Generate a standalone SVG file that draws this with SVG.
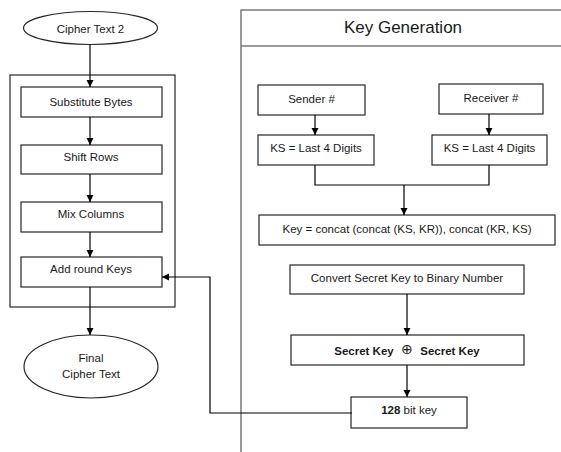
<svg xmlns="http://www.w3.org/2000/svg" width="561" height="452" viewBox="0 0 561 452">
<defs>
<marker id="ah" markerWidth="8" markerHeight="8" refX="7" refY="4" orient="auto" markerUnits="userSpaceOnUse">
<path d="M0,0.5 L7,4 L0,7.5 Z" fill="#000"/>
</marker>
<style>
.box{fill:#fff;stroke:#262626;stroke-width:1.2}
.panel{fill:none;stroke:#7a7a7a;stroke-width:1.5}
.t{font-family:"Liberation Sans",Arial,sans-serif;font-size:11.5px;fill:#1a1a1a;text-anchor:middle;dominant-baseline:central}
.b{font-weight:bold}
.c{fill:none;stroke:#000;stroke-width:1.2}
</style>
</defs>
<rect width="561" height="452" fill="#fff"/>
<g id="keygen-panel">
<path class="panel" d="M241,452 V10 H561 M241,46 H561"/>
<text class="t" x="403" y="27" style="font-size:17px">Key Generation</text>
</g>
<g id="round-box"><rect class="box" x="10" y="75" width="165" height="232"/></g>
<g id="cipher-text-2"><ellipse class="box" cx="90.5" cy="28" rx="67" ry="16.5"/><text class="t" x="90.5" y="29">Cipher Text 2</text></g>
<g id="substitute-bytes"><rect class="box" x="21" y="87" width="141" height="30"/><text class="t" x="91" y="102">Substitute Bytes</text></g>
<g id="shift-rows"><rect class="box" x="21" y="145" width="141" height="29"/><text class="t" x="91" y="157">Shift Rows</text></g>
<g id="mix-columns"><rect class="box" x="21" y="202" width="141" height="30"/><text class="t" x="91" y="214">Mix Columns</text></g>
<g id="add-round-keys"><rect class="box" x="21" y="257" width="141" height="30"/><text class="t" x="91" y="269">Add round Keys</text></g>
<g id="final-cipher-text"><ellipse class="box" cx="91" cy="366.5" rx="67" ry="31.5"/><text class="t" x="91" y="358">Final</text><text class="t" x="91" y="374">Cipher Text</text></g>
<g id="sender"><rect class="box" x="258" y="85" width="107" height="30"/><text class="t" x="311.5" y="99">Sender #</text></g>
<g id="receiver"><rect class="box" x="439" y="84" width="104" height="30"/><text class="t" x="491" y="98">Receiver #</text></g>
<g id="ks-left"><rect class="box" x="258" y="135" width="116" height="30"/><text class="t" x="316" y="148">KS = Last 4 Digits</text></g>
<g id="ks-right"><rect class="box" x="432" y="135" width="115" height="30"/><text class="t" x="489.5" y="148">KS = Last 4 Digits</text></g>
<g id="key-concat"><rect class="box" x="259" y="215" width="296" height="30"/><text class="t" x="407" y="229">Key = concat (concat (KS, KR)), concat (KR, KS)</text></g>
<g id="convert"><rect class="box" x="290" y="265" width="234" height="29"/><text class="t" x="407" y="278">Convert Secret Key to Binary Number</text></g>
<g id="xor"><rect class="box" x="291" y="335" width="233" height="30"/>
<text class="t b" x="364" y="351">Secret Key</text>
<text class="t" x="407" y="349" style="font-size:14px">⊕</text>
<text class="t b" x="450" y="351">Secret Key</text></g>
<g id="key128"><rect class="box" x="351" y="397" width="116" height="31"/><text class="t" x="409" y="410"><tspan class="b">128</tspan> bit key</text></g>
<g id="connectors">
<path class="c" d="M90,44.5 V87" marker-end="url(#ah)"/>
<path class="c" d="M90,117 V145" marker-end="url(#ah)"/>
<path class="c" d="M90,174 V202" marker-end="url(#ah)"/>
<path class="c" d="M90,232 V257" marker-end="url(#ah)"/>
<path class="c" d="M90,287 V335" marker-end="url(#ah)"/>
<path class="c" d="M352,413 H210 V277 H162" marker-end="url(#ah)"/>
<path class="c" d="M315,115 V135" marker-end="url(#ah)"/>
<path class="c" d="M489,114 V135" marker-end="url(#ah)"/>
<path class="c" d="M315,165 V185 H489 V165"/>
<path class="c" d="M404,185 V215" marker-end="url(#ah)"/>
<path class="c" d="M407,294 V335" marker-end="url(#ah)"/>
<path class="c" d="M407,365 V397" marker-end="url(#ah)"/>
</g>
</svg>
